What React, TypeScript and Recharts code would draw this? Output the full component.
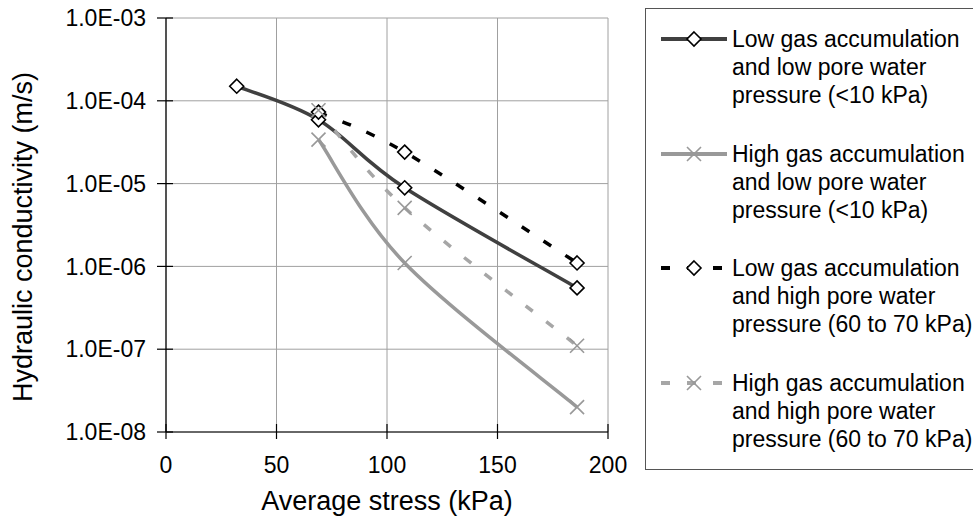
import React from 'react';
import { LineChart, Line, XAxis, YAxis, CartesianGrid, Legend } from 'recharts';

// average stress (kPa)
const stressLowLow = [32, 69, 108, 186];
const stressOther = [69, 108, 186];

// hydraulic conductivity (m/s)
const kLowGasLowPwp = [1.5e-4, 5.9e-5, 8.9e-6, 5.5e-7];
const kHighGasLowPwp = [3.4e-5, 1.1e-6, 2.0e-8];
const kLowGasHighPwp = [7.3e-5, 2.4e-5, 1.1e-6];
const kHighGasHighPwp = [7.7e-5, 5.1e-6, 1.1e-7];

const xTicks = [0, 50, 100, 150, 200];
const yTicks = [1e-8, 1e-7, 1e-6, 1e-5, 1e-4, 1e-3];

const toRows = (xs: number[], ys: number[]) => xs.map((x, i) => ({ x, k: ys[i] }));

type Marker = 'diamond' | 'cross';

const SERIES: { name: string[]; data: { x: number; k: number }[]; color: string; dash?: string; marker: Marker; markerColor: string }[] = [
  {
    name: ['Low gas accumulation', 'and low pore water', 'pressure (<10 kPa)'],
    data: toRows(stressLowLow, kLowGasLowPwp),
    color: '#404040',
    marker: 'diamond',
    markerColor: '#000',
  },
  {
    name: ['High gas accumulation', 'and low pore water', 'pressure (<10 kPa)'],
    data: toRows(stressOther, kHighGasLowPwp),
    color: '#999999',
    marker: 'cross',
    markerColor: '#999999',
  },
  {
    name: ['Low gas accumulation', 'and high pore water', 'pressure (60 to 70 kPa)'],
    data: toRows(stressOther, kLowGasHighPwp),
    color: '#000000',
    dash: '9 17',
    marker: 'diamond',
    markerColor: '#000',
  },
  {
    name: ['High gas accumulation', 'and high pore water', 'pressure (60 to 70 kPa)'],
    data: toRows(stressOther, kHighGasHighPwp),
    color: '#a6a6a6',
    dash: '9 17',
    marker: 'cross',
    markerColor: '#999999',
  },
];

const FONT = '"Liberation Sans", Arial, sans-serif';

// spreadsheet-style smoothed line (catmull-rom as cubic beziers)
const smoothCurve = (context: any) => {
  let pts: [number, number][] = [];
  return {
    areaStart() {},
    areaEnd() {},
    lineStart() {
      pts = [];
    },
    point(x: number, y: number) {
      pts.push([+x, +y]);
    },
    lineEnd() {
      const n = pts.length;
      if (!n) return;
      context.moveTo(pts[0][0], pts[0][1]);
      for (let i = 0; i < n - 1; i++) {
        const p0 = pts[Math.max(i - 1, 0)];
        const p1 = pts[i];
        const p2 = pts[i + 1];
        const p3 = pts[Math.min(i + 2, n - 1)];
        context.bezierCurveTo(
          p1[0] + (p2[0] - p0[0]) / 6,
          p1[1] + (p2[1] - p0[1]) / 6,
          p2[0] - (p3[0] - p1[0]) / 6,
          p2[1] - (p3[1] - p1[1]) / 6,
          p2[0],
          p2[1]
        );
      }
    },
  };
};

const sci = (v: number) => {
  const e = Math.round(Math.log10(v));
  return `1.0E${e < 0 ? '-' : '+'}${String(Math.abs(e)).padStart(2, '0')}`;
};

const MarkerShape = ({ cx, cy, kind, color }: { cx: number; cy: number; kind: Marker; color: string }) => {
  const s = 7;
  if (kind === 'diamond') {
    return (
      <path
        d={`M${cx},${cy - s}L${cx + s},${cy}L${cx},${cy + s}L${cx - s},${cy}Z`}
        fill="#fff"
        stroke={color}
        strokeWidth={1.6}
      />
    );
  }
  return (
    <path
      d={`M${cx - s},${cy - s}L${cx + s},${cy + s}M${cx - s},${cy + s}L${cx + s},${cy - s}`}
      stroke={color}
      strokeWidth={1.6}
      fill="none"
    />
  );
};

const YTick = (props: any) => {
  const { x, y, payload } = props;
  const axisX = x + 20;
  return (
    <g>
      <line x1={axisX - 9} x2={axisX + 7} y1={y} y2={y} stroke="#000" strokeWidth={1.2} />
      <text x={x} y={y} dy="0.36em" textAnchor="end" fontSize={23} fill="#000">
        {sci(payload.value)}
      </text>
    </g>
  );
};

const XTick = (props: any) => {
  const { x, y, payload } = props;
  const axisY = y - 25;
  return (
    <g>
      <line x1={x} x2={x} y1={axisY - 8} y2={axisY + 7} stroke="#000" strokeWidth={1.2} />
      <text x={x} y={y + 16} textAnchor="middle" fontSize={23} fill="#000">
        {payload.value}
      </text>
    </g>
  );
};

const LegendBox = () => (
  <div
    style={{
      width: '100%',
      height: '100%',
      boxSizing: 'border-box',
      border: '1px solid #555',
      background: '#fff',
      paddingTop: 16,
      fontFamily: FONT,
      fontSize: 23,
      lineHeight: '28px',
      color: '#000',
      whiteSpace: 'nowrap',
    }}
  >
    {SERIES.map((s, i) => (
      <div key={i} style={{ display: 'flex', height: 84, marginBottom: 30.5 }}>
        <svg width={66} height={28} style={{ marginLeft: 15, marginRight: 5, flex: 'none' }}>
          <line x1={0} x2={66} y1={14} y2={14} stroke={s.color} strokeWidth={4} strokeDasharray={s.dash} />
          <MarkerShape cx={33} cy={14} kind={s.marker} color={s.markerColor} />
        </svg>
        <div>
          {s.name.map((t, j) => (
            <div key={j}>{t}</div>
          ))}
        </div>
      </div>
    ))}
  </div>
);

export default function App() {
  return (
    <div
      style={{
        position: 'absolute',
        left: 0,
        top: 0,
        width: 973,
        height: 519,
        overflow: 'hidden',
        background: '#fff',
        fontFamily: FONT,
      }}
    >
      <LineChart width={973} height={519} margin={{ top: 18, right: 365, left: 0, bottom: 0 }}>
        <CartesianGrid stroke="#a0a0a0" strokeWidth={1} />
        <XAxis
          dataKey="x"
          type="number"
          domain={[0, 200]}
          ticks={xTicks}
          height={87}
          tickSize={7}
          tickMargin={18}
          tickLine={false}
          axisLine={{ stroke: '#000', strokeWidth: 1.2 }}
          tick={(p: any) => <XTick {...p} />}
          allowDataOverflow
          label={{ value: 'Average stress (kPa)', position: 'center', dy: 25, style: { fontSize: 27, fill: '#000' } }}
        />
        <YAxis
          dataKey="k"
          type="number"
          scale="log"
          domain={[1e-8, 1e-3]}
          ticks={yTicks}
          width={166}
          tickSize={9}
          tickMargin={11}
          tickLine={false}
          axisLine={{ stroke: '#000', strokeWidth: 1.2 }}
          tick={(p: any) => <YTick {...p} />}
          allowDataOverflow
          label={{
            value: 'Hydraulic conductivity (m/s)',
            angle: -90,
            position: 'center',
            dx: -61,
            dy: 12,
            style: { fontSize: 27, fill: '#000' },
          }}
        />
        <Legend
          layout="horizontal"
          align="center"
          verticalAlign="middle"
          wrapperStyle={{ left: 645, top: 8, right: 'auto', bottom: 'auto', width: 345, height: 462 }}
          content={() => <LegendBox />}
        />
        {SERIES.map((s, i) => (
          <Line
            key={i}
            data={s.data}
            dataKey="k"
            name={s.name.join(' ')}
            type={smoothCurve as any}
            stroke={s.color}
            strokeWidth={3.5}
            strokeDasharray={s.dash}
            isAnimationActive={false}
            activeDot={false}
            dot={(p: any) => (
              <MarkerShape key={`m-${i}-${p.index}`} cx={p.cx} cy={p.cy} kind={s.marker} color={s.markerColor} />
            )}
          />
        ))}
      </LineChart>
    </div>
  );
}
